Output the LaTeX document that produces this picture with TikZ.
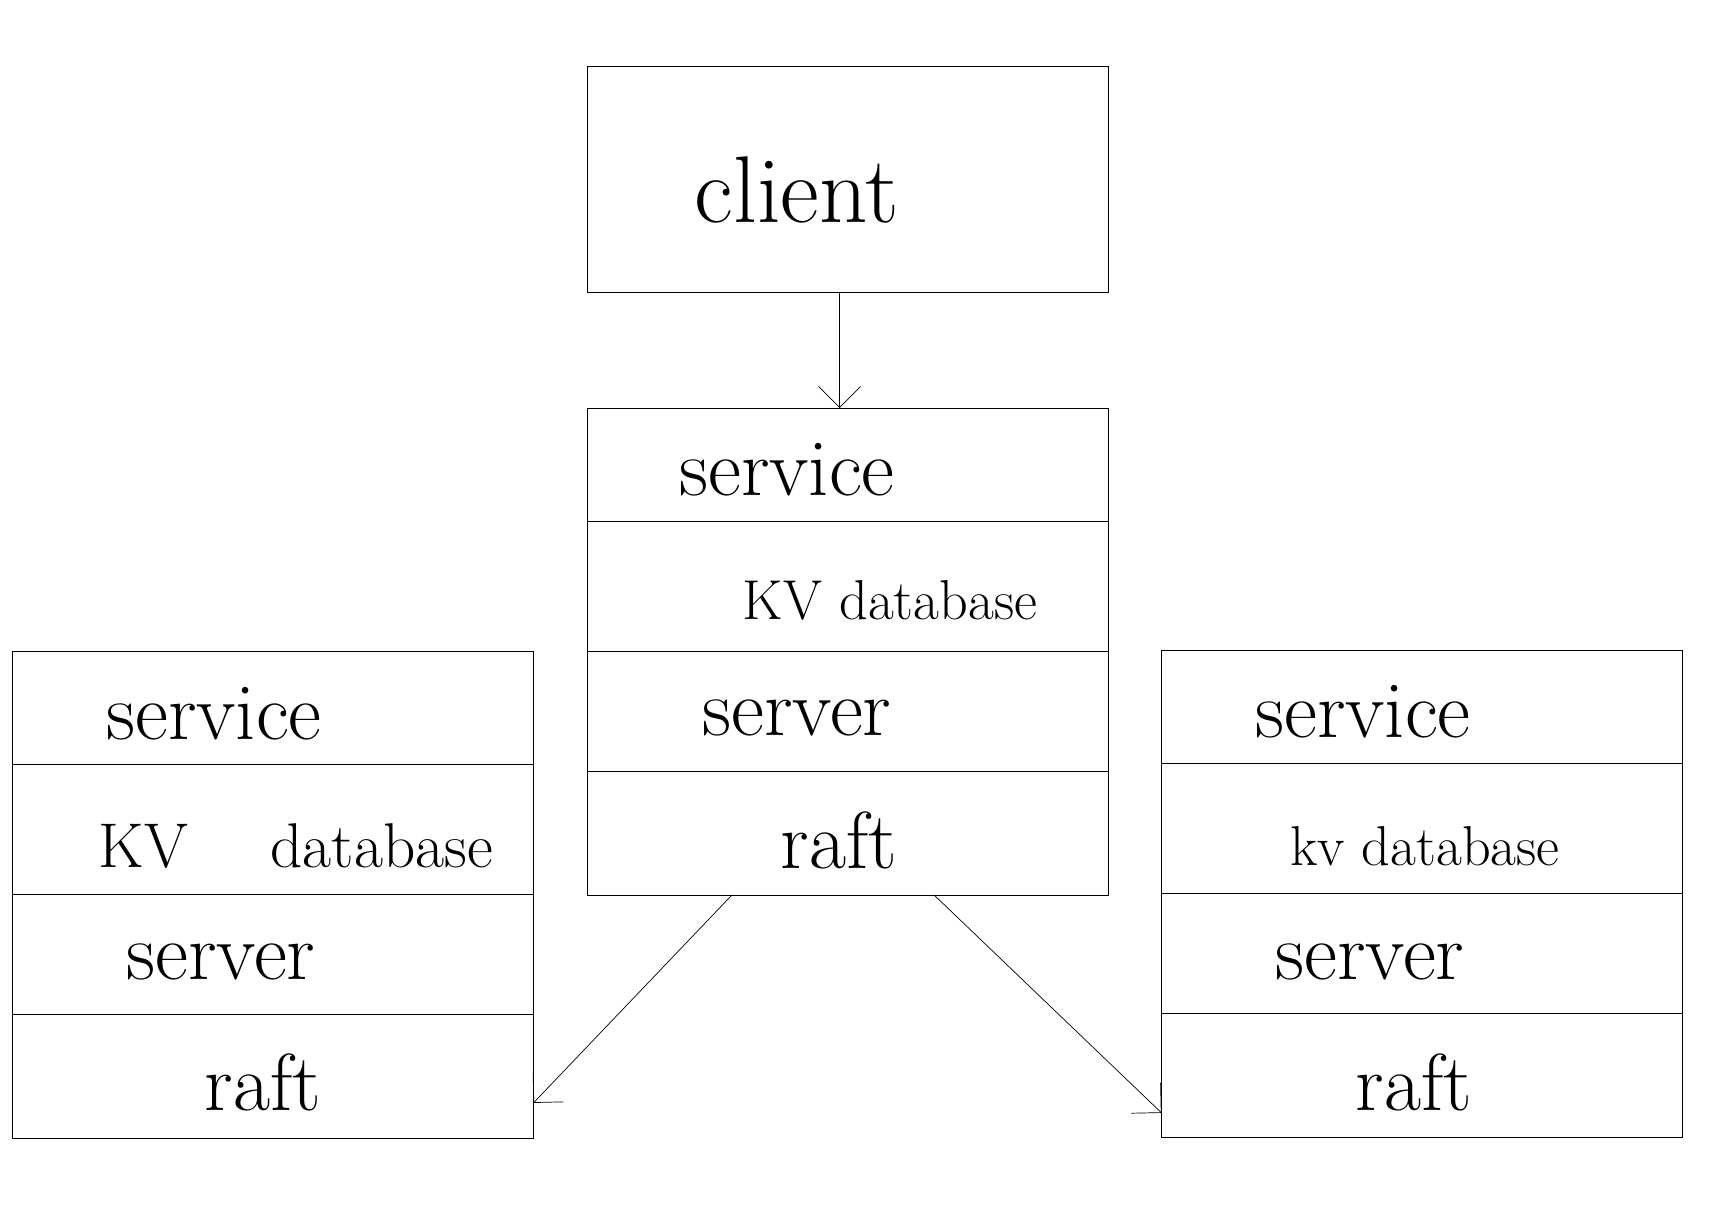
\documentclass[tikz,border=0pt]{standalone}
\usetikzlibrary{
	positioning		% below=0pt of ...
	, arrows.meta		% open barb tips
}

\begin{document}
\begin{tikzpicture}[
			x=0.02cm, y=-0.02cm,
			box/.style={
				draw=black, thin,
				minimum width=10.42cm,
				minimum height=4.52cm,
				outer sep=0pt
			},
			layer/.style={
				draw=black, thin,
				minimum width=10.42cm,
				inner sep=0pt, outer sep=0pt
			},
			word/.style={
				font=\fontsize{46}{52}\selectfont
			},
			arrow/.style={
				->,
				thin
			},
			>={Straight Barb[length=12pt, width=24pt]}]

		\useasboundingbox (0,0) rectangle (1719,1212);

		\node [box] (client) at (847.5,179) {};

		%%% the three server stacks
		\foreach \s/\x/\y in {cen/847.5/408, left/273/651, right/1422/650} {
			\node [layer, minimum height=2.26cm, anchor=north] (\s-service) at (\x,\y) {};
			\node [layer, minimum height=2.6cm, below=0pt of \s-service] (\s-kv) {};
			\node [layer, minimum height=2.4cm, below=0pt of \s-kv] (\s-server) {};
			\node [layer, minimum height=2.48cm, below=0pt of \s-server] (\s-raft) {};
		};

		% labels
		\node [word, font=\fontsize{54}{60}\selectfont] (client-t) at (797,190) {client};

		\node [word] (cen-service-t) at (787,470) {service};
		\node [word, font=\fontsize{32}{40}\selectfont] (cen-kv-t) at (890,600) {KV database};
		\node [word] (cen-server-t) at (797,718) {server};
		\node [word] (cen-raft-t) at (839,840) {raft};

		\node [word] (left-service-t) at (214,714) {service};
		\node [word, font=\fontsize{36}{42}\selectfont] (left-kv-t) at (296,846) {KV \quad database};
		\node [word] (left-server-t) at (221,962) {server};
		\node [word] (left-raft-t) at (263,1082) {raft};

		\node [word] (right-service-t) at (1363,712) {service};
		\node [word, font=\fontsize{32}{40}\selectfont] (right-kv-t) at (1425,846) {kv database};
		\node [word] (right-server-t) at (1370,962) {server};
		\node [word] (right-raft-t) at (1414,1082) {raft};

		%%% connectors
		\draw [arrow] ([xshift=-0.16cm]client.south) -- ([xshift=-0.16cm]cen-service.north);
		\draw [arrow] ([xshift=-2.31cm]cen-raft.south) -- ([yshift=-0.54cm]left-raft.east);
		\draw [arrow] ([xshift=1.73cm]cen-raft.south) -- ([yshift=-0.76cm]right-raft.west);

\end{tikzpicture}
\end{document}
